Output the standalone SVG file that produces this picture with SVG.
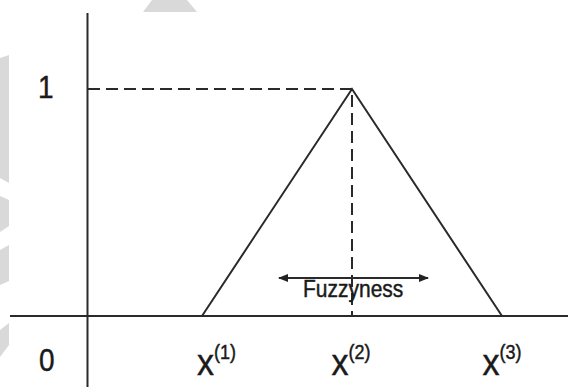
<svg xmlns="http://www.w3.org/2000/svg" width="568" height="387" viewBox="0 0 568 387">
<style>
.wm{fill:#d9d9d9;stroke:none}
.ln{stroke:#2a2a2a;stroke-width:2;fill:none}
.dash{stroke:#2a2a2a;stroke-width:2;fill:none;stroke-dasharray:12 6}
.t{font-family:"Liberation Sans",Arial,sans-serif;fill:#1a1a1a;stroke:#1a1a1a;stroke-width:0.4}
</style>
<defs>
<marker id="ah" viewBox="0 0 10 10" refX="9" refY="5" markerWidth="10" markerHeight="8" markerUnits="userSpaceOnUse" orient="auto-start-reverse" preserveAspectRatio="none">
<path d="M0,0 L10,5 L0,10 Z" fill="#222"/>
</marker>
</defs>
<rect width="568" height="387" fill="#fff"/>
<g id="watermark">
<polygon class="wm" points="152,0 187,0 197,12 143,12"/>
<polygon class="wm" points="0,58 9,55 9,183 0,178"/>
<polygon class="wm" points="0,196 9,200 9,226 0,232"/>
<polygon class="wm" points="0,250 9,245 9,281 0,285"/>
<polygon class="wm" points="0,330 9,323 9,345 0,357"/>
</g>
<g id="axes">
<line class="ln" x1="87.5" y1="13" x2="87.5" y2="387"/>
<line class="ln" x1="10" y1="316" x2="568" y2="316"/>
</g>
<g id="triangle">
<polyline class="ln" points="202,316 352,89 502,316"/>
</g>
<g id="connectors">
<line class="dash" x1="88" y1="89" x2="352" y2="89"/>
<line class="dash" x1="352" y1="95" x2="352" y2="316"/>
<line class="ln" x1="279" y1="278" x2="428" y2="278" marker-start="url(#ah)" marker-end="url(#ah)"/>
</g>
<g id="labels">
<text class="t" font-size="28" transform="translate(38,98) scale(1,1.1)">1</text>
<text class="t" font-size="28" transform="translate(39,371) scale(1,1.1)">0</text>
<text class="t" font-size="21" transform="translate(303,297) scale(1,1.12)">Fuzzyness</text>
<text class="t" font-size="34" transform="translate(197,375) scale(1,1.1)">x<tspan font-size="18" dy="-14.5">(1)</tspan></text>
<text class="t" font-size="34" transform="translate(331.5,375) scale(1,1.1)">x<tspan font-size="18" dy="-14.5">(2)</tspan></text>
<text class="t" font-size="34" transform="translate(482.5,375) scale(1,1.1)">x<tspan font-size="18" dy="-14.5">(3)</tspan></text>
</g>
</svg>
